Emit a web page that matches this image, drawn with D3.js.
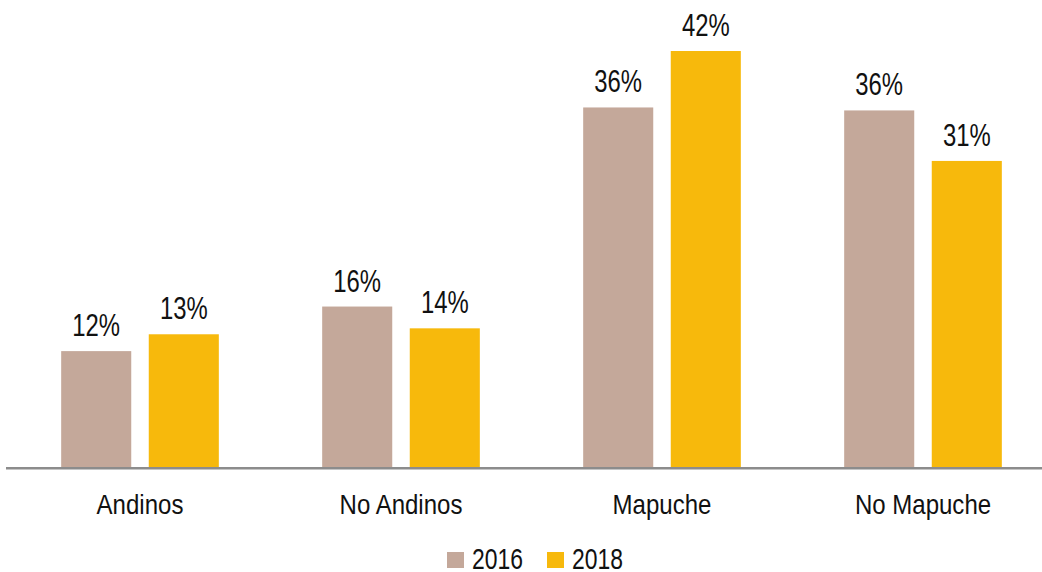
<!DOCTYPE html>
<html>
<head>
<meta charset="utf-8">
<script src="https://cdn.jsdelivr.net/npm/d3@7"></script>
<style>
    body { margin: 0; background: #fff; }
    text { font-family: "Liberation Sans", Arial, sans-serif; fill: #111; }
</style>
</head>
<body>
<svg id="chart" width="1042" height="572"></svg>
<script>
"use strict";
var categories = ["Andinos", "No Andinos", "Mapuche", "No Mapuche"];
var series = ["2016", "2018"];
var values2016 = [11.7, 16.2, 36.3, 36.0];
var values2018 = [13.4, 14.0, 42.0, 30.9];
var colors = ["#c4a89a", "#f7b90c"];

(function () {
    var svg = d3.select("#chart");
    var baseY = 467;

    var x0 = d3.scaleBand().domain(categories).range([9.5, 1053.5]).paddingInner(0).paddingOuter(0);
    var x1 = d3.scaleBand().domain(series).range([0, x0.bandwidth()]).paddingInner(0.2).paddingOuter(0.59);
    var y = d3.scaleLinear().domain([0, 42]).range([baseY, 51]);
    var color = d3.scaleOrdinal().domain(series).range(colors);
    var fmt = d3.format(".0f");

    // narrow look: squeeze the text horizontally
    function narrow(sx) {
        return function (d) {
            var t = d3.select(this);
            var px = +t.attr("x"), py = +t.attr("y");
            t.attr("x", 0).attr("y", 0)
                .attr("transform", "translate(" + px + "," + py + ") scale(" + sx + ",1)");
        };
    }

    var rows = categories.map(function (c, i) {
        return { cat: c, vals: [{ s: "2016", v: values2016[i] }, { s: "2018", v: values2018[i] }] };
    });

    var groups = svg.selectAll(".grp").data(rows).enter().append("g")
        .attr("class", "grp")
        .attr("transform", function (d) { return "translate(" + x0(d.cat) + ",0)"; });

    groups.selectAll("rect").data(function (d) { return d.vals; }).enter().append("rect")
        .attr("x", function (d) { return x1(d.s); })
        .attr("y", function (d) { return y(d.v); })
        .attr("width", x1.bandwidth())
        .attr("height", function (d) { return baseY - y(d.v); })
        .style("fill", function (d) { return color(d.s); });

    groups.selectAll(".lbl").data(function (d) { return d.vals; }).enter().append("text")
        .attr("class", "lbl")
        .attr("x", function (d) { return x1(d.s) + x1.bandwidth() / 2; })
        .attr("y", function (d) { return y(d.v) - 15; })
        .attr("text-anchor", "middle")
        .style("font-size", "31px")
        .text(function (d) { return fmt(d.v) + "%"; })
        .each(narrow(0.77));

    // baseline
    svg.append("line")
        .attr("x1", 6).attr("x2", 1042)
        .attr("y1", baseY + 1.3).attr("y2", baseY + 1.3)
        .attr("stroke", "#8c8c8c").attr("stroke-width", 2.6);

    // category axis
    var axis = svg.append("g")
        .attr("transform", "translate(0," + baseY + ")")
        .call(d3.axisBottom(x0).tickSize(0).tickPadding(0));
    axis.select(".domain").remove();
    axis.selectAll("text")
        .attr("dy", 0).attr("y", 47)
        .style("font-size", "27px")
        .style("font-family", "'Liberation Sans', Arial, sans-serif")
        .attr("fill", "#111")
        .each(narrow(0.89));

    // legend
    var legendX = [447, 547];
    var leg = svg.selectAll(".leg").data(series).enter().append("g")
        .attr("class", "leg")
        .attr("transform", function (d, i) { return "translate(" + legendX[i] + ",0)"; });
    leg.append("rect")
        .attr("x", 0).attr("y", 552).attr("width", 17).attr("height", 16)
        .style("fill", function (d) { return color(d); });
    leg.append("text")
        .attr("x", 25).attr("y", 569)
        .style("font-size", "29px")
        .text(function (d) { return d; })
        .each(narrow(0.79));
}());
</script>
</body>
</html>
